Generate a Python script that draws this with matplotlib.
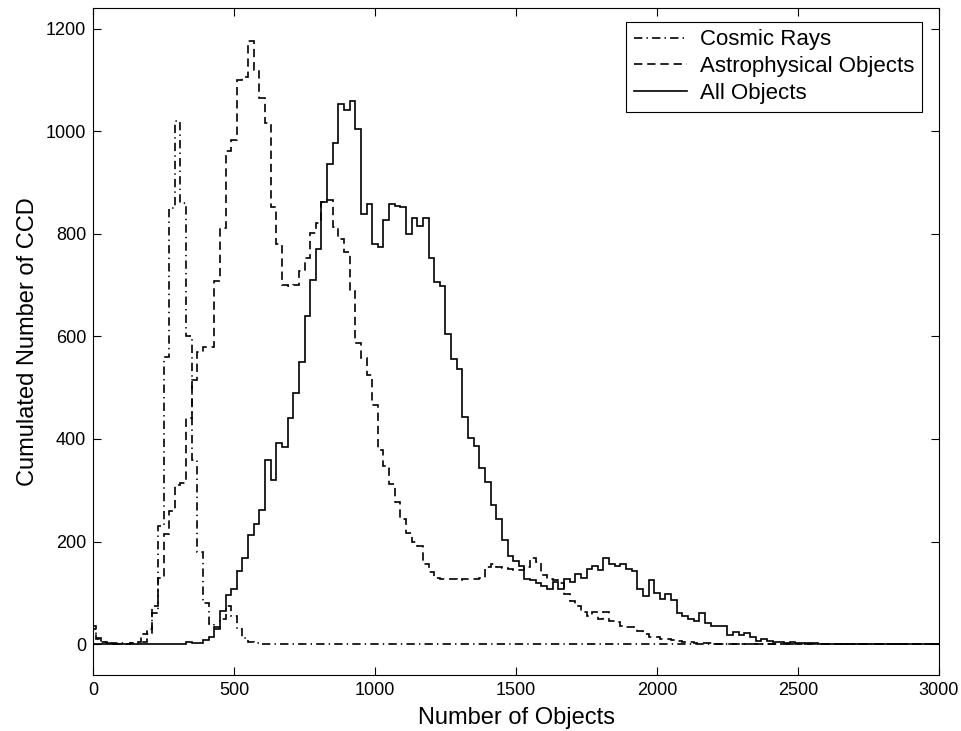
import numpy as np
import matplotlib
matplotlib.use("Agg")
import matplotlib.pyplot as plt

# bin centres every 20 objects (0 .. 3000)
bin_width = 20
centres = np.arange(0, 3001, bin_width)

# Cosmic rays, from bin 0 upward
cosmic = [35, 12, 5, 3, 2, 2, 1, 2, 2, 5,
          20, 60, 230, 560, 850, 1020, 860, 600, 360, 180,
          80, 40, 30, 50, 75, 55, 30, 12, 5, 2]

# Astrophysical objects, from bin 0 upward
astro = [30, 10, 4, 2, 1, 1, 1, 2, 5, 20,
         30, 75, 130, 215, 260, 310, 315, 440, 515, 570,
         580, 580, 707, 811, 961, 982, 1100, 1105, 1175, 1120,
         1065, 1015, 852, 780, 700, 698, 700, 727, 753, 801,
         820, 862, 866, 814, 790, 765, 689, 587, 558, 525,
         467, 379, 347, 313, 278, 245, 216, 200, 191, 156,
         140, 130, 128, 127, 127, 125, 127, 128, 127, 130,
         150, 156, 150, 149, 147, 145, 145, 150, 169, 160,
         134, 128, 125, 120, 97, 84, 75, 62, 55, 62,
         50, 62, 45, 43, 35, 33, 33, 25, 20, 15,
         15, 10, 10, 8, 6, 5, 4, 3, 3, 2,
         2, 1]

# All objects, from bin 0 upward
all_obj = [0, 0, 0, 0, 0, 0, 0, 0, 0, 0,
           0, 0, 0, 0, 0, 0, 0, 4, 3, 2,
           8, 15, 33, 64, 95, 107, 142, 169, 212, 234,
           262, 360, 321, 393, 385, 440, 490, 550, 640, 710,
           770, 862, 935, 977, 1052, 1042, 1058, 1004, 838, 858,
           780, 775, 827, 858, 855, 852, 799, 830, 815, 830,
           753, 705, 699, 605, 555, 537, 443, 402, 386, 344,
           317, 271, 245, 204, 172, 162, 152, 128, 125, 119,
           113, 108, 121, 108, 128, 121, 136, 130, 147, 152,
           144, 169, 156, 152, 157, 147, 143, 107, 94, 125,
           100, 88, 97, 86, 61, 55, 50, 45, 60, 41,
           36, 35, 35, 17, 23, 17, 21, 15, 7, 11,
           7, 5, 4, 3, 5, 3, 3, 2, 2, 1,
           1]


def full(vals):
    out = np.zeros(len(centres))
    out[:len(vals)] = vals
    return out


edges = np.append(centres - bin_width / 2, centres[-1] + bin_width / 2)

plt.rcParams["font.family"] = ["Liberation Sans", "DejaVu Sans"]
plt.rcParams["lines.scale_dashes"] = False

fig = plt.figure(figsize=(9.62, 7.31), dpi=100)
ax = fig.add_axes([93 / 962, 1 - 675 / 731, 846 / 962, 667 / 731])

ax.stairs(full(cosmic), edges, color="k", lw=1.2, ls=(0, (6, 3, 1, 3)), label="Cosmic Rays")
ax.stairs(full(astro), edges, color="k", lw=1.2, ls=(0, (6, 3.5)), label="Astrophysical Objects")
ax.stairs(full(all_obj), edges, color="k", lw=1.2, label="All Objects")

ax.set_xlim(0, 3000)
ax.set_ylim(-60, 1240)
ax.set_xticks(np.arange(0, 3001, 500))
ax.set_yticks(np.arange(0, 1201, 200))
ax.tick_params(direction="in", top=True, right=True, length=6, width=0.8,
               labelsize=13, pad=5)
for s in ax.spines.values():
    s.set_linewidth(0.8)

ax.set_xlabel("Number of Objects", fontsize=17, labelpad=6)
ax.set_ylabel("Cumulated Number of CCD", fontsize=17, labelpad=5)

leg = ax.legend(loc="upper right", bbox_to_anchor=(0.9796, 0.9795), borderaxespad=0,
                fontsize=16, handlelength=2.4, handletextpad=0.55, frameon=True,
                fancybox=False, edgecolor="k", framealpha=1, borderpad=0.35,
                labelspacing=0.26)
leg.get_frame().set_linewidth(0.8)

fig.savefig("out.png", dpi=100)
